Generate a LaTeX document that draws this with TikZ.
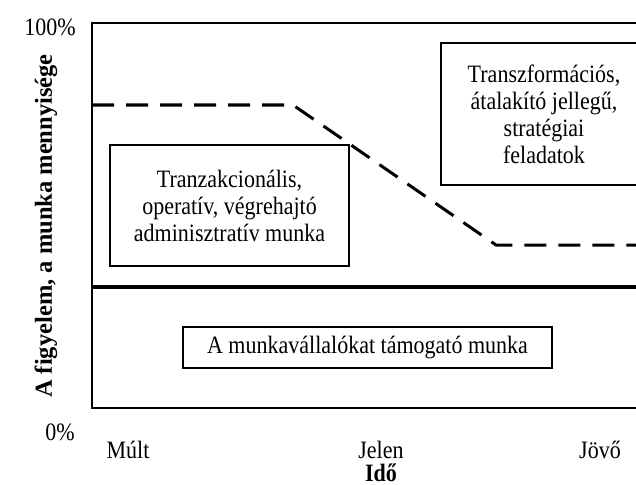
\documentclass[tikz,border=0pt]{standalone}
\usepackage{fontspec}
\setmainfont{Liberation Serif}[FakeStretch=0.88]
\newfontfamily\plainserif{Liberation Serif}
\begin{document}
\begin{tikzpicture}[x=1pt,y=-1pt,
  txt/.style={font=\fontsize{25}{27}\selectfont, inner sep=0pt},
  boxed/.style={draw, line width=1.4pt, inner sep=0pt, align=center,
    font=\fontsize{25}{27}\selectfont},
  frame/.style={line width=1.6pt},
  divider/.style={line width=4pt},
  trend/.style={line width=3pt, dash pattern=on 22pt off 12pt}]
\useasboundingbox (0,0) rectangle (636,484);

% axes frame, open to the right
\draw[frame] (700,23) -- (92,23) -- (92,408) -- (700,408);

% boxes
\node[boxed, minimum width=239pt, minimum height=121pt] (tran) at (229.5,205.5)
  {Tranzakcionális,\\operatív, végrehajtó\\adminisztratív munka};
\node[boxed, minimum width=206pt, minimum height=142pt] (trans) at (544,114)
  {Transzformációs,\\átalakító jellegű,\\stratégiai\\feladatok};
\node[boxed, minimum width=369pt, minimum height=41pt] (emp) at (367.5,347.5)
  {A munkavállalókat támogató munka};

% boundary between support work and the rest
\coordinate (sL) at (92,287);
\coordinate (sR) at (700,287);
\draw[divider] (sL) -- (sR);

% shifting boundary between operative and strategic work
\coordinate (d0) at (92,105);
\coordinate (d1) at (293,105);
\coordinate (d2) at (496,245);
\coordinate (d3) at (700,245);
\draw[trend] (d0) -- (d1) -- (d2) -- (d3);

% axis labels
\node[txt, anchor=east] (hi) at (76,27) {100\%};
\node[txt] (lo) at (60,432) {0\%};
\node[txt, anchor=base] (past) at (128,458) {Múlt};
\node[txt, anchor=base] (now) at (381,458) {Jelen};
\node[txt, anchor=base] (fut) at (600,458) {Jövő};
\node[txt, font=\fontsize{25}{27}\selectfont\bfseries, anchor=base] (time) at (381,481) {Idő};
\node[txt, font=\plainserif\fontsize{24.5}{27}\selectfont\bfseries, rotate=90] (ylab) at (46,226)
  {A figyelem, a munka mennyisége};
\end{tikzpicture}
\end{document}
